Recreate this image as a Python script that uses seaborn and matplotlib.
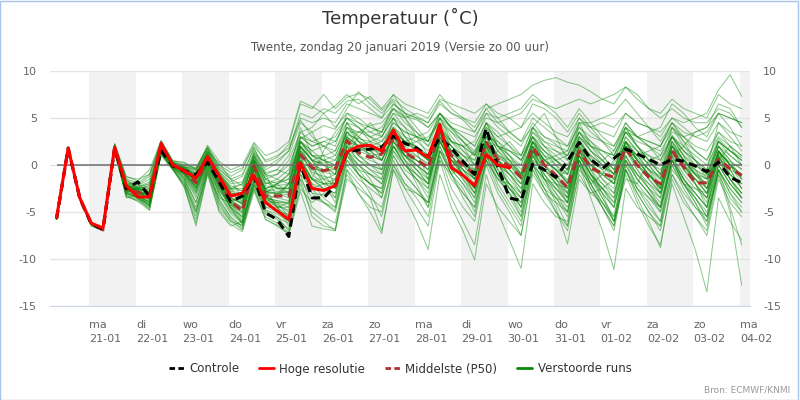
import numpy as np
import pandas as pd
import matplotlib.pyplot as plt
import seaborn as sns
from matplotlib.lines import Line2D
from matplotlib.patches import Rectangle

## Tijdas: 6-uurlijkse stappen (lokale tijd), run van zo 20-01 00 UTC
tijden = pd.date_range('2019-01-20 07:00', periods=60, freq='6h')

dagen = ['ma', 'di', 'wo', 'do', 'vr', 'za', 'zo', 'ma', 'di', 'wo', 'do', 'vr', 'za', 'zo', 'ma']
datums = ['21-01', '22-01', '23-01', '24-01', '25-01', '26-01', '27-01', '28-01',
          '29-01', '30-01', '31-01', '01-02', '02-02', '03-02', '04-02']
tick_dagen = pd.date_range('2019-01-21', periods=15, freq='D')

## Hoge resolutie loopt tot 30-01 (240 uur)
hoge_resolutie = [-5.6, 1.8, -3.5, -6.2, -6.7,
                  1.9, -2.2, -3.4, -3.4, 2.3, 0.0, -0.6, -1.4, 0.9, -1.2, -3.3, -3.0,
                  -1.1, -4.0, -4.9, -5.8, 0.2, -2.5, -2.7, -2.2, 1.4, 2.0, 2.1, 1.5,
                  3.7, 1.5, 1.6, 0.8, 4.3, -0.3, -1.1, -2.2, 1.1, 0.0, -0.3]

controle = [-5.7, 1.8, -3.5, -6.3, -6.8,
            1.8, -2.5, -1.8, -3.3, 1.5, -0.1, -0.6, -1.0, 0.3, -1.8, -3.9, -3.3,
            -1.2, -5.1, -5.8, -7.6, 0.1, -3.5, -3.5, -2.2, 1.4, 1.6, 1.7, 1.9,
            3.1, 2.3, 1.8, 0.9, 2.9, 1.8, 0.4, -1.0, 3.9, -0.2, -3.5, -3.8,
            0.1, -0.5, -1.3, 0.4, 2.4, 0.6, -0.4, 0.7, 1.7, 1.2, 0.6, 0.0,
            0.6, 0.4, -0.1, -0.7, 0.3, -1.3, -1.9]

middelste = [-5.7, 1.7, -3.6, -6.3, -6.9,
             1.8, -2.6, -2.9, -3.2, 2.0, 0.0, -0.7, -1.9, 0.6, -1.8, -3.9, -4.9,
             -0.1, -3.3, -3.3, -3.3, 1.1, -0.3, -0.6, -0.4, 2.6, 1.3, 0.8, 1.2,
             2.8, 1.3, 0.6, -0.3, 3.6, 1.0, 0.0, -1.0, 2.4, 0.6, -0.1, -1.3,
             1.9, 0.0, -1.1, -2.4, 1.5, -0.3, -0.9, -1.3, 1.8, 0.0, -1.3, -2.0,
             1.5, -0.2, -1.9, -1.9, 0.6, -0.4, -1.1]

verstoorde_runs = [
    [-5.7, 1.8, -3.5, -6.3, -6.8,
     1.9, -2.4, -2.8, -3.0, 2.1, 0.1, -0.5, -1.5, 0.8, -1.5, -3.5, -4.2, 0.3, -2.8, -3.0, -3.5,
     1.5, -0.2, -0.8, -1.0, 2.8, 1.8, 1.2, 1.0, 3.1, 1.6, 0.9, 0.2, 3.8, 1.5, 0.4, -0.6,
     2.9, 1.1, 0.2, -0.8, 2.4, 0.6, -0.5, -1.6, 2.0, 0.4, -0.3, -0.9, 2.3, 0.7, -0.5, -1.2,
     2.2, 0.5, -0.8, -1.5, 1.2, 0.3, -0.4],
    [-5.6, 1.9, -3.6, -6.4, -6.9,
     1.5, -3.2, -3.9, -4.8, 1.2, -0.4, -2.2, -5.8, -0.6, -4.5, -6.0, -6.9, -2.5, -5.5, -6.2, -7.2,
     -2.5, -4.0, -3.0, -1.5, 2.0, 3.5, 4.2, 4.5, 6.0, 5.2, 4.8, 4.0, 5.5, 3.8, 2.5, 1.2,
     4.5, 2.0, 0.5, -1.5, 3.0, 0.2, -2.0, -4.0, 1.5, -1.0, -3.5, -5.5, 0.5, -2.5, -4.5, -6.0,
     0.8, -1.5, -3.0, -4.5, 1.2, -0.5, -2.5],
    [-5.7, 1.7, -3.4, -6.2, -6.7,
     2.3, -1.2, -1.7, -0.5, 2.6, 0.4, 0.3, -0.5, 2.0, -0.2, -1.2, -0.5, 2.3, 0.3, 0.8, 2.2,
     6.5, 6.0, 7.5, 6.0, 7.2, 7.6, 7.0, 5.8, 7.0, 6.0, 5.2, 4.5, 6.8, 5.5, 4.8, 3.5,
     5.5, 4.0, 3.0, 2.0, 4.5, 3.0, 2.2, 1.0, 4.0, 2.5, 1.5, 0.5, 3.5, 2.0, 1.0, 0.0,
     3.2, 1.5, 0.5, -0.5, 2.8, 1.5, 0.8],
    [-5.8, 1.8, -3.7, -6.5, -7.0,
     1.6, -3.0, -3.5, -4.2, 1.5, -0.2, -1.5, -4.5, -0.2, -3.8, -5.5, -6.5, -2.0, -5.0, -5.8, -6.8,
     -1.5, -5.5, -6.5, -6.8, -1.0, -3.0, -4.5, -5.0, 0.5, -2.0, -3.5, -5.5, 1.0, -2.5, -4.5, -6.0,
     0.0, -3.0, -5.0, -7.5, -0.5, -3.0, -5.0, -6.5, 0.5, -2.0, -4.5, -7.0, -0.5, -3.0, -5.0, -6.5,
     0.0, -2.5, -4.5, -6.0, -0.5, -3.0, -5.0],
    [-5.7, 1.8, -3.5, -6.3, -6.8,
     1.8, -2.0, -2.0, -3.0, 1.7, -0.1, -0.8, -1.2, 0.5, -2.0, -3.8, -3.5, -1.0, -4.8, -5.5, -7.0,
     0.3, -3.0, -3.2, -2.0, 1.8, 1.5, 1.8, 2.0, 3.5, 2.5, 2.0, 1.0, 3.2, 2.0, 0.5, -1.5,
     3.5, 0.5, -2.5, -3.5, 0.5, -0.5, -1.5, -0.5, 2.8, 0.8, -0.5, 0.2, 2.0, 1.0, 0.2, -0.5,
     1.0, 0.2, -0.5, -1.2, 0.8, -1.0, -2.0],
    [-5.6, 1.8, -3.5, -6.3, -6.8,
     2.0, -1.8, -2.2, -1.5, 2.4, 0.3, -0.2, -0.8, 1.5, -0.8, -2.0, -1.8, 1.5, -1.0, -0.5, 1.0,
     4.5, 3.5, 4.2, 3.8, 6.0, 7.8, 6.5, 5.5, 6.8, 5.0, 3.5, 2.0, 5.0, 3.0, 1.5, 0.0,
     3.5, 1.5, 0.5, -1.0, 2.5, 1.0, 0.5, -0.5, 3.5, 2.0, 1.0, -0.5, 3.0, 1.5, 0.0, -1.5,
     2.5, 0.5, -1.0, -2.5, 1.5, 0.0, -1.5],
    [-5.7, 1.9, -3.5, -6.3, -6.8,
     1.7, -2.8, -3.0, -3.5, 1.9, 0.0, -0.9, -2.5, 0.4, -2.2, -4.2, -5.5, -0.8, -3.8, -4.0, -4.5,
     1.5, -1.0, -2.0, -2.5, 2.0, 0.5, -0.5, -1.5, 2.5, 0.5, -1.0, -2.5, 2.8, 0.0, -1.5, -3.0,
     1.5, -1.0, -2.5, -4.0, 1.0, -1.5, -3.0, -4.5, 0.5, -2.5, -4.5, -6.5, -1.0, -4.0, -6.5, -8.5,
     -2.0, -5.5, -9.0, -13.5, -3.5, -6.0, -8.0],
    [-5.8, 1.7, -3.6, -6.4, -6.9,
     1.4, -3.4, -3.8, -4.6, 1.1, -0.5, -2.4, -6.2, -0.9, -4.8, -6.3, -7.1, -2.8, -5.8, -6.4, -7.4,
     -2.8, -6.5, -6.8, -7.0, -1.5, -2.5, -3.5, -4.5, 0.0, -2.5, -4.5, -6.5, 0.5, -3.5, -6.0, -8.5,
     -1.0, -5.0, -8.0, -11.0, -2.0, -4.0, -5.5, -6.0, 0.0, -1.5, -2.5, -3.5, 1.5, 0.0, -1.0, -2.5,
     1.5, 0.0, -1.5, -3.0, 0.5, -1.5, -3.0],
    [-5.7, 1.8, -3.5, -6.3, -6.8,
     2.1, -2.2, -2.5, -2.2, 2.2, 0.2, -0.4, -1.0, 1.2, -1.2, -2.8, -3.0, 0.5, -2.0, -1.8, -1.5,
     2.5, 1.0, 0.5, 0.0, 3.5, 2.5, 2.0, 1.5, 4.0, 2.5, 1.5, 0.5, 4.5, 2.5, 1.5, 0.5,
     3.8, 2.0, 1.0, 0.0, 3.5, 2.5, 2.0, 1.5, 4.5, 4.0, 4.5, 4.0, 5.5, 4.5, 4.0, 3.5,
     5.0, 4.5, 5.0, 5.5, 8.0, 9.6, 7.3],
    [-5.6, 1.7, -3.4, -6.2, -6.7,
     1.9, -2.5, -2.6, -2.8, 2.0, 0.1, -0.6, -1.6, 0.9, -1.6, -3.2, -3.8, 0.0, -2.5, -2.2, -2.0,
     2.0, 0.5, 0.0, -0.5, 3.0, 2.0, 1.5, 1.8, 4.5, 3.5, 3.0, 2.5, 5.5, 4.5, 4.0, 3.5,
     6.0, 6.5, 7.0, 7.5, 8.5, 9.0, 9.3, 8.8, 8.5, 7.8, 7.0, 6.5, 8.3, 7.5, 6.0, 5.5,
     7.0, 6.0, 5.5, 5.0, 7.5, 6.5, 6.0],
    [-5.7, 1.8, -3.6, -6.3, -6.9,
     1.6, -2.9, -3.3, -3.9, 1.6, -0.1, -1.2, -3.5, 0.1, -3.0, -5.0, -6.0, -1.5, -4.2, -4.8, -5.5,
     0.0, -2.0, -3.5, -4.5, 0.5, -1.0, -2.0, -3.0, 1.5, -0.5, -1.5, -3.0, 2.0, -0.5, -2.0, -4.0,
     1.0, -1.5, -3.0, -5.0, 0.5, -2.0, -3.5, -5.0, 0.0, -2.5, -4.5, -6.5, -0.5, -3.0, -5.0, -7.0,
     -1.0, -3.5, -5.5, -7.5, -1.5, -4.0, -5.5],
    [-5.7, 1.8, -3.5, -6.3, -6.8,
     1.8, -2.6, -2.9, -3.4, 1.9, 0.0, -0.7, -2.0, 0.6, -1.9, -4.0, -5.0, 0.2, -3.0, -3.0, -2.8,
     1.8, 0.5, 0.2, 0.5, 3.2, 2.8, 2.5, 2.0, 3.0, 1.5, 0.5, -0.5, 3.3, 1.2, 0.2, -0.8,
     2.5, 0.8, 0.0, -1.0, 2.0, 0.5, -0.5, -1.8, 1.8, 0.0, -0.8, -1.5, 1.6, 0.0, -1.2, -2.2,
     1.4, -0.3, -1.5, -2.5, 0.8, -0.5, -1.2],
    [-5.7, 1.8, -3.5, -6.3, -6.8,
     1.7, -2.7, -3.1, -3.6, 1.8, 0.0, -1.0, -2.8, 0.3, -2.5, -4.5, -5.8, -1.2, -4.5, -5.0, -5.2,
     0.8, -1.5, -2.5, -3.0, 1.5, 0.0, -1.0, -2.0, 2.0, 0.0, -1.0, -2.0, 3.0, 0.5, -1.0, -2.5,
     1.8, -0.5, -2.0, -3.5, 1.2, -1.5, -3.5, -5.5, 0.0, -3.5, -7.0, -11.1, -2.5, -4.5, -5.5, -6.5,
     -1.0, -3.0, -4.5, -5.5, -0.5, -3.0, -4.5],
    [-5.8, 1.8, -3.6, -6.4, -6.9,
     1.5, -3.1, -3.6, -4.3, 1.4, -0.3, -1.8, -5.0, -0.4, -4.0, -5.8, -6.8, -2.2, -5.2, -5.6, -6.2,
     -1.0, -4.5, -5.5, -6.2, -0.5, -2.0, -3.5, -7.0, -0.5, -3.5, -6.0, -9.0, -1.0, -4.5, -7.0, -10.1,
     -2.0, -4.5, -6.0, -7.5, -1.0, -3.0, -4.0, -5.0, 0.5, -1.5, -3.0, -4.5, 0.5, -1.5, -3.0, -4.5,
     0.0, -2.0, -3.5, -5.0, -0.5, -2.5, -4.0],
    [-5.6, 1.8, -3.5, -6.3, -6.8,
     2.2, -1.5, -1.9, -1.0, 2.5, 0.4, 0.0, -0.3, 1.8, 0.0, -0.8, -0.3, 2.0, 0.5, 1.0, 1.8,
     5.0, 4.5, 5.0, 4.5, 6.5, 6.0, 5.5, 5.0, 6.5, 5.5, 5.0, 4.5, 6.5, 5.5, 5.0, 4.5,
     6.5, 5.5, 5.0, 4.0, 5.5, 4.5, 3.5, 3.0, 5.0, 4.0, 3.5, 3.0, 5.5, 4.5, 4.0, 3.0,
     5.0, 4.0, 3.0, 2.5, 4.5, 3.5, 3.0],
    [-5.7, 1.8, -3.5, -6.3, -6.8,
     2.0, -2.3, -2.7, -3.8, 2.2, 0.1, -0.6, -2.5, 1.0, -2.2, -4.5, -5.5, 0.5, -3.5, -3.8, -4.0,
     2.0, -0.5, -1.5, -2.0, 3.0, 1.0, 0.0, -0.5, 3.5, 1.0, -0.5, -2.0, 4.0, 1.0, -0.5, -2.5,
     3.0, 0.5, -1.0, -3.0, 2.5, 0.0, -1.5, -3.5, 2.0, -0.5, -2.0, -3.5, 2.0, -0.5, -2.0, -3.5,
     2.0, -0.5, -2.0, -3.5, 1.5, -1.0, -2.5],
    [-5.7, 1.8, -3.5, -6.3, -6.8,
     2.1, -2.0, -2.4, -2.0, 2.3, 0.2, -0.3, -1.2, 1.4, -1.0, -2.5, -2.5, 1.0, -1.5, -1.0, 0.5,
     3.5, 4.0, 5.5, 6.3, 7.5, 6.5, 7.3, 6.0, 7.5, 5.5, 4.0, 2.5, 5.0, 3.5, 2.5, 1.5,
     4.0, 2.5, 1.5, 0.5, 3.5, 2.0, 1.0, 0.0, 3.0, 1.5, 0.5, -1.0, 2.5, 1.0, -0.5, -2.0,
     2.0, 0.5, -0.5, -1.5, 2.5, 1.5, 0.5],
    [-5.7, 1.8, -3.5, -6.3, -6.8,
     1.5, -3.3, -3.7, -4.5, 1.3, -0.4, -2.3, -6.5, -1.0, -5.0, -6.5, -6.0, -2.2, -4.5, -4.5, -4.0,
     1.0, -2.5, -4.0, -5.0, 0.0, -1.5, -2.5, -3.5, 1.0, -1.0, -2.5, -4.5, 1.5, -1.0, -2.5, -5.0,
     0.5, -2.5, -4.5, -6.5, 0.0, -2.5, -4.5, -8.4, -1.5, -3.0, -4.0, -5.5, 0.0, -2.0, -3.5, -5.0,
     0.5, -1.5, -3.0, -4.5, 0.0, -2.0, -3.5],
    [-5.7, 1.8, -3.5, -6.3, -6.8,
     1.9, -2.4, -2.8, -3.2, 2.0, 0.1, -0.5, -1.8, 0.8, -1.8, -3.5, -4.0, 0.0, -2.5, -2.0, -1.0,
     3.0, 2.0, 2.5, 3.0, 5.0, 4.5, 4.0, 3.5, 5.5, 5.0, 5.5, 5.0, 7.0, 6.5, 6.0, 5.5,
     6.5, 5.0, 3.5, 2.5, 4.0, 2.5, 1.5, 0.5, 3.5, 1.5, 0.0, -1.5, 2.5, 0.5, -1.0, -2.5,
     2.0, 0.0, -1.5, -3.0, 1.5, 0.0, -1.0],
    [-5.7, 1.8, -3.5, -6.3, -6.8,
     1.8, -2.5, -2.9, -3.1, 1.9, 0.0, -0.7, -1.7, 0.7, -1.7, -3.7, -4.5, -0.3, -3.2, -3.5, -3.8,
     1.2, -0.8, -1.2, -1.5, 2.3, 1.0, 0.5, 0.0, 2.5, 1.0, 0.0, -1.0, 3.0, 0.5, -0.5, -1.5,
     2.0, 0.0, -1.0, -2.0, 1.5, -0.5, -1.5, -2.5, 1.0, -1.0, -2.0, -3.0, 1.0, -1.0, -2.5, -4.0,
     0.5, -2.0, -3.5, -5.5, -1.0, -5.0, -12.8],
    [-5.7, 1.8, -3.5, -6.3, -6.8,
     2.0, -2.1, -2.5, -2.5, 2.1, 0.2, -0.4, -1.3, 1.1, -1.3, -3.0, -3.2, 0.8, -2.0, -1.5, -0.5,
     3.5, 2.5, 3.0, 2.5, 4.5, 4.0, 3.0, 2.5, 4.5, 3.5, 3.0, 2.5, 5.0, 4.0, 3.5, 3.0,
     5.0, 4.5, 5.0, 5.5, 7.0, 6.5, 6.0, 6.5, 7.0, 6.5, 7.0, 7.5, 8.3, 7.0, 6.0, 5.0,
     6.0, 5.0, 4.5, 4.5, 6.0, 5.5, 4.0],
    [-5.8, 1.7, -3.6, -6.4, -6.9,
     1.6, -2.9, -3.3, -4.0, 1.5, -0.2, -1.4, -4.0, -0.1, -3.2, -5.2, -6.2, -1.8, -4.8, -5.2, -6.0,
     -0.5, -3.0, -4.0, -4.8, 0.5, -1.0, -2.0, -2.5, 1.5, 0.0, -1.0, -2.0, 2.5, 0.0, -1.5, -3.5,
     1.5, -1.0, -2.5, -4.5, 1.0, -1.0, -2.5, -4.0, 0.5, -2.0, -4.0, -6.0, -0.5, -3.5, -6.0, -8.8,
     -1.5, -4.0, -5.5, -7.0, -1.0, -3.5, -5.0],
    [-5.7, 1.8, -3.5, -6.3, -6.8,
     2.2, -1.9, -2.3, -1.8, 2.4, 0.3, -0.2, -0.9, 1.7, -0.7, -1.8, -1.2, 1.8, -0.8, -0.5, -1.0,
     4.0, 1.0, 0.0, -1.0, 4.5, 3.0, 2.0, 1.0, 5.0, 3.0, 1.5, 0.5, 5.0, 2.5, 1.0, -0.5,
     4.5, 2.0, 0.5, -1.0, 4.0, 2.0, 0.5, -1.0, 4.5, 2.0, 0.5, -1.0, 4.0, 2.0, 0.5, -1.0,
     4.0, 2.0, 0.5, -0.5, 4.5, 3.0, 1.5],
    [-5.7, 1.8, -3.5, -6.3, -6.8,
     1.7, -2.7, -3.0, -3.7, 1.7, -0.1, -0.9, -2.2, 0.4, -2.0, -4.1, -5.2, -0.5, -3.5, -3.8, -4.2,
     0.5, -1.5, -2.0, -2.0, 2.0, 0.5, 0.0, -0.5, 2.0, 0.5, -0.5, -1.5, 2.5, 0.0, -1.0, -2.0,
     2.0, 0.0, -1.0, -2.5, 1.5, -0.5, -2.0, -3.0, 1.0, -1.0, -2.5, -4.0, 1.0, -1.0, -2.5, -3.5,
     1.0, -1.0, -2.5, -3.5, 0.5, -1.5, -3.0],
    [-5.6, 1.9, -3.4, -6.2, -6.7,
     2.0, -2.0, -2.4, -2.4, 2.2, 0.2, -0.3, -1.0, 1.3, -0.9, -2.4, -2.0, 1.2, -1.2, -1.0, 0.0,
     3.0, 2.0, 2.5, 2.0, 5.5, 5.0, 4.0, 3.5, 6.0, 4.5, 3.5, 2.5, 5.5, 4.0, 3.0, 2.0,
     4.5, 3.0, 2.0, 1.0, 4.0, 3.0, 2.5, 2.0, 4.0, 3.0, 2.5, 2.0, 4.0, 3.0, 2.5, 2.0,
     4.0, 3.0, 2.0, 1.5, 3.5, 2.5, 2.0],
    [-5.7, 1.8, -3.5, -6.3, -6.8,
     1.6, -3.0, -3.4, -4.0, 1.4, -0.3, -1.7, -4.8, -0.3, -3.6, -5.6, -6.6, -2.5, -5.8, -6.5, -7.3,
     -2.0, -5.0, -6.0, -7.0, -0.5, -3.0, -5.0, -7.3, -0.5, -2.5, -3.0, -4.0, 1.0, -1.5, -3.0, -4.5,
     0.5, -1.5, -3.0, -4.5, 1.0, -1.0, -2.5, -4.0, 1.0, -1.0, -2.5, -4.5, 0.5, -1.5, -3.0, -4.5,
     0.5, -1.5, -3.0, -4.5, 0.0, -2.0, -3.5],
    [-5.7, 1.8, -3.5, -6.3, -6.8,
     2.1, -1.7, -2.1, -1.2, 2.4, 0.3, 0.0, -0.6, 1.8, -0.5, -1.5, -1.0, 1.8, -0.5, 0.2, 1.5,
     5.5, 5.0, 6.0, 5.5, 6.8, 7.0, 6.0, 5.0, 7.5, 6.5, 6.0, 5.5, 7.5, 6.0, 5.0, 4.0,
     6.0, 4.5, 3.5, 2.5, 5.0, 4.0, 3.0, 2.0, 5.0, 3.5, 2.5, 1.5, 4.5, 3.0, 2.0, 1.0,
     4.0, 2.5, 1.5, 0.5, 3.5, 2.0, 1.0],
    [-5.7, 1.8, -3.5, -6.3, -6.8,
     1.9, -2.3, -2.6, -2.9, 2.0, 0.1, -0.6, -1.4, 0.9, -1.4, -3.2, -3.0, 0.4, -2.6, -2.8, -3.0,
     2.0, 0.5, 1.0, 1.5, 4.0, 3.0, 2.0, 1.5, 3.5, 2.0, 1.0, 0.0, 4.0, 2.0, 1.0, 0.0,
     3.0, 1.0, 0.0, -1.5, 2.5, 0.5, -0.5, -2.0, 2.5, 0.5, -0.5, -2.0, 2.5, 0.5, -1.0, -2.5,
     2.5, 0.5, -1.0, -2.0, 2.0, 0.5, -0.5],
    [-5.7, 1.8, -3.5, -6.3, -6.8,
     1.8, -2.6, -3.0, -3.3, 1.8, 0.0, -0.8, -2.3, 0.5, -2.1, -4.0, -4.8, -0.6, -3.6, -4.2, -5.0,
     0.5, -2.0, -2.5, -3.0, 1.5, 0.5, -0.5, -1.0, 2.5, 1.0, 0.0, -1.0, 3.0, 1.0, -0.5, -2.0,
     2.5, 0.0, -1.5, -3.0, 1.5, -0.5, -2.0, -3.5, 1.5, -1.0, -2.5, -4.0, 1.0, -1.5, -3.0, -5.0,
     0.5, -2.0, -4.0, -6.5, -0.5, -4.5, -8.5],
    [-5.7, 1.8, -3.5, -6.3, -6.8,
     2.0, -2.2, -2.6, -2.6, 2.1, 0.1, -0.5, -1.2, 1.0, -1.3, -3.0, -3.4, 0.6, -2.2, -2.4, -2.5,
     2.5, 1.0, 1.0, 0.5, 3.5, 2.5, 2.0, 2.5, 4.0, 3.0, 2.5, 1.5, 4.0, 2.5, 2.0, 1.0,
     3.5, 2.0, 1.5, 0.5, 3.0, 2.0, 1.5, 1.0, 3.5, 2.0, 1.5, 1.0, 3.5, 2.5, 2.0, 1.5,
     3.5, 3.0, 3.5, 4.0, 6.5, 6.0, 4.0],
    [-5.7, 1.8, -3.5, -6.3, -6.8,
     1.9, -1.5, -2.6, -3.6, 1.8, 0.3, -1.1, -3.0, 0.2, -0.8, -2.5, -3.9, 1.2, -1.0, -3.5, -2.0,
     2.8, 3.5, 1.0, -2.5, 1.0, 3.0, 4.5, 3.0, 5.5, 4.0, 1.5, -1.5, 2.0, -1.0, -3.5, -5.5,
     0.5, 1.5, 2.5, 1.0, 4.0, 5.5, 3.0, 0.5, 2.5, -0.5, -3.0, -6.0, -1.5, -2.0, 0.5, 1.0,
     3.0, 1.0, -2.0, -4.5, 0.5, 2.0, 1.0],
    [-5.6, 1.7, -3.5, -6.3, -6.8,
     1.7, -2.8, -2.5, -2.2, 1.6, -0.3, -0.2, -0.6, 1.4, 0.2, -1.5, -3.6, -0.5, -2.5, -4.5, -6.0,
     -0.5, -1.5, 1.5, 3.5, 5.0, 4.0, 2.5, 0.5, 3.0, 0.5, -2.0, -4.5, 0.5, -1.0, 0.0, 1.5,
     3.0, 2.5, 1.0, -1.0, 1.5, -1.5, -4.0, -6.5, -1.0, -3.0, -2.5, -1.5, 2.5, 1.0, -0.5, -3.0,
     1.0, 2.0, 3.5, 4.0, 5.5, 4.0, 2.0],
    [-5.7, 1.8, -3.4, -6.2, -6.8,
     2.0, -2.5, -3.4, -4.4, 1.3, 0.0, -1.5, -4.0, 0.0, -2.8, -4.0, -4.5, 0.5, -1.5, -2.5, -3.0,
     1.5, 0.0, -2.0, -4.0, 1.0, -0.5, -1.0, -1.5, 3.0, 2.0, 2.5, 3.0, 4.5, 3.5, 2.0, 0.0,
     2.0, -1.0, -3.5, -5.5, 0.0, -1.5, -2.0, -2.5, 1.5, -0.5, -1.0, -2.0, 2.0, 0.0, -1.5, -3.0,
     1.5, 0.0, -1.0, -1.5, 2.0, 0.5, -1.5],
    [-5.7, 1.8, -3.5, -6.4, -6.9,
     1.6, -3.5, -3.2, -2.8, 1.5, -0.4, -1.0, -1.5, 0.0, -3.0, -4.8, -6.2, -2.0, -4.0, -3.0, -2.0,
     2.5, 1.5, 0.5, -0.5, 4.0, 3.5, 3.5, 4.0, 6.0, 5.0, 3.0, 1.0, 3.0, 1.5, 0.5, -1.0,
     2.5, 0.0, -2.0, -4.5, 0.0, -2.5, -5.0, -7.0, -0.5, -2.0, -1.0, 0.5, 3.5, 3.0, 3.5, 4.0,
     6.5, 5.5, 4.0, 3.0, 5.5, 5.0, 4.5],
    [-5.7, 1.8, -3.5, -6.3, -6.8,
     1.8, -2.2, -3.6, -4.2, 1.7, 0.2, -0.2, -0.4, 1.8, -0.4, -1.5, -2.2, 0.8, -2.8, -4.5, -5.5,
     -1.0, -2.5, -2.0, -1.5, 1.5, 0.0, -1.5, -3.5, 1.0, -1.0, -2.5, -4.0, 1.5, 0.5, 0.0, -0.5,
     2.5, 2.0, 1.5, 1.0, 3.0, 1.5, 0.0, -2.0, 1.5, 0.0, -1.0, -2.0, 2.0, 1.0, 1.5, 2.0,
     4.5, 3.0, 1.5, 0.5, 3.0, 2.0, 0.0],
    [-5.7, 1.8, -3.6, -6.3, -6.8,
     1.9, -2.9, -2.4, -3.0, 2.2, 0.0, -0.8, -2.2, 0.9, -1.2, -2.2, -2.8, 1.4, -0.2, 0.5, 1.5,
     4.8, 3.0, 2.0, 1.5, 4.5, 2.5, 1.0, -0.5, 3.5, 1.5, 0.0, -1.5, 3.5, 1.0, -1.0, -2.5,
     2.0, -0.5, -2.0, -3.5, 1.5, 0.5, 1.0, 1.5, 4.5, 4.5, 5.0, 5.5, 7.0, 5.5, 4.0, 2.5,
     4.5, 2.5, 0.5, -1.5, 2.0, 0.0, -2.0],
    [-5.8, 1.8, -3.5, -6.3, -6.9,
     1.5, -2.6, -3.2, -4.0, 1.6, -0.2, -1.3, -3.2, 0.2, -2.6, -4.6, -6.0, -1.8, -4.0, -4.0, -4.0,
     0.0, -1.5, -1.5, -1.0, 2.5, 2.0, 2.5, 3.0, 5.0, 4.0, 3.0, 2.0, 4.0, 2.0, 0.5, -1.0,
     2.5, 0.5, -1.0, -2.5, 1.5, -1.0, -3.0, -5.0, 0.5, -2.0, -4.0, -6.0, 0.0, -2.5, -4.0, -6.0,
     -0.5, -2.0, -2.5, -3.0, 1.5, 0.0, -1.0],
    [-5.7, 1.9, -3.5, -6.3, -6.8,
     2.0, -2.0, -2.9, -3.5, 1.9, 0.2, -0.5, -1.0, 1.5, -1.0, -2.8, -4.2, 0.2, -3.2, -4.5, -4.5,
     2.5, 1.0, 0.5, 0.0, 1.5, -0.5, -2.0, -3.0, 2.0, 0.0, -1.5, -3.5, 1.5, -1.0, -3.0, -4.5,
     0.5, -1.5, -2.0, -3.0, 2.0, 0.5, -0.5, -1.0, 3.0, 2.0, 1.5, 1.0, 3.5, 2.0, 0.5, -1.0,
     3.0, 1.0, -0.5, -2.5, 1.5, -0.5, -2.5],
    [-5.7, 1.8, -3.5, -6.3, -6.8,
     2.2, -1.3, -1.5, -1.0, 2.6, 0.5, 0.2, -0.4, 2.1, 0.4, -0.5, 0.0, 2.4, 1.0, 1.5, 2.5,
     6.8, 6.2, 5.5, 4.0, 5.5, 4.5, 3.5, 3.0, 5.0, 3.0, 1.5, 0.5, 4.0, 2.5, 2.0, 2.5,
     5.5, 5.0, 5.5, 6.0, 7.5, 6.5, 5.5, 4.0, 6.0, 4.5, 3.0, 2.0, 4.5, 3.0, 2.5, 2.0,
     4.5, 3.5, 3.0, 3.5, 5.5, 5.0, 4.5],
    [-5.7, 1.8, -3.5, -6.3, -6.8,
     1.7, -2.4, -3.1, -4.4, 1.6, -0.1, -1.0, -2.9, 0.5, -2.4, -4.6, -6.3, -1.0, -3.0, -2.0, -1.0,
     2.5, 0.5, -1.5, -3.5, 1.0, -1.0, -2.0, -2.5, 2.5, 1.0, 0.5, 0.0, 3.0, 1.0, -1.0, -3.0,
     1.0, -2.0, -4.0, -6.0, -0.5, -2.5, -3.5, -4.0, 1.0, 0.0, 0.5, 1.5, 4.0, 3.0, 2.0, 0.5,
     3.0, 1.5, 0.5, -1.0, 2.5, 1.0, 0.0],
    [-5.6, 1.8, -3.5, -6.3, -6.8,
     1.8, -2.7, -2.7, -3.1, 2.1, 0.1, -0.3, -1.1, 1.0, -2.0, -3.6, -4.0, -0.5, -2.8, -2.5, -2.5,
     1.0, -0.5, -0.5, 0.0, 3.5, 3.5, 3.0, 3.5, 6.5, 5.5, 5.0, 4.0, 5.5, 4.0, 3.0, 2.0,
     4.5, 3.5, 2.0, 0.5, 3.0, 1.0, -1.0, -3.0, 1.0, -1.0, -3.0, -4.5, 0.5, -1.0, -2.0, -3.0,
     1.5, 0.0, -1.5, -3.0, 1.0, -1.5, -3.5],
    [-5.7, 1.8, -3.5, -6.3, -6.8,
     1.9, -2.3, -2.3, -2.0, 2.1, 0.0, -0.4, -1.2, 1.1, -1.5, -2.6, -2.0, 1.0, -1.5, -2.0, -3.0,
     1.0, 0.0, 0.5, 1.0, 4.0, 2.5, 1.5, 0.5, 3.0, 1.5, 0.5, -0.5, 3.5, 2.5, 2.0, 1.0,
     4.0, 3.0, 3.5, 4.0, 6.5, 6.0, 5.0, 3.5, 5.5, 4.0, 2.5, 1.0, 4.0, 2.0, 0.5, -1.0,
     3.0, 1.5, 0.0, -1.0, 2.5, 1.5, 0.5],
    [-5.8, 1.7, -3.6, -6.4, -7.0,
     1.4, -3.1, -3.4, -4.2, 1.2, -0.4, -2.0, -5.4, -0.6, -4.2, -6.0, -6.4, -1.5, -3.5, -4.5, -6.5,
     -1.5, -3.5, -4.0, -4.5, 1.0, 0.0, -1.0, -2.0, 2.0, 1.0, 0.0, -1.0, 2.5, 0.5, -1.0, -3.0,
     1.5, -1.0, -3.0, -5.5, 0.0, -1.5, -2.5, -3.5, 1.0, -1.5, -3.5, -6.0, -0.5, -2.5, -3.5, -4.5,
     0.5, -2.0, -4.0, -6.0, -0.5, -2.5, -4.0],
    [-5.7, 1.8, -3.5, -6.3, -6.8,
     2.1, -2.1, -2.8, -3.3, 2.0, 0.0, -0.6, -1.6, 0.7, -1.9, -3.8, -4.6, 0.0, -2.8, -3.2, -2.0,
     3.0, 2.5, 2.0, 1.0, 3.5, 2.0, 1.5, 0.5, 3.5, 2.5, 3.0, 3.5, 5.5, 4.0, 2.5, 1.0,
     3.5, 1.5, 0.0, -1.5, 2.0, 0.0, -1.5, -3.0, 1.5, 0.0, -1.0, -2.0, 2.0, 0.5, -0.5, -1.5,
     2.0, 0.5, -1.0, -2.0, 1.5, 0.0, -1.5],
    [-5.7, 1.8, -3.5, -6.3, -6.8,
     1.6, -2.8, -3.5, -4.8, 1.0, -0.5, -2.0, -5.0, -0.8, -3.5, -4.0, -3.0, 0.5, -1.0, -1.5, -2.0,
     2.0, 0.5, -1.0, -2.5, 1.5, -1.0, -3.0, -5.5, 0.0, -2.0, -3.0, -4.0, 1.5, -0.5, -2.0, -3.5,
     1.0, -1.0, -2.5, -4.0, 1.5, 0.0, 0.5, 1.0, 3.5, 2.5, 1.0, -0.5, 2.5, 0.5, -1.0, -2.5,
     2.0, 0.0, -2.0, -4.0, 1.0, -1.5, -3.0],
    [-5.7, 1.8, -3.5, -6.3, -6.8,
     1.8, -2.5, -3.2, -3.9, 1.8, 0.1, -0.9, -2.6, 0.5, -2.3, -4.4, -5.6, -0.4, -3.4, -4.0, -5.5,
     0.5, -1.5, -2.5, -3.5, 2.0, 1.5, 1.0, 0.5, 3.0, 1.0, -0.5, -2.0, 2.5, 0.5, -1.0, -2.5,
     2.0, 0.5, -0.5, -1.5, 2.5, 1.5, 0.5, -0.5, 2.5, 1.0, 0.0, -1.0, 2.5, 1.5, 1.0, 0.5,
     3.0, 2.0, 1.0, 0.0, 2.5, 1.5, 0.5],
    [-5.7, 1.8, -3.5, -6.3, -6.8,
     2.0, -2.2, -2.6, -2.7, 2.2, 0.2, -0.4, -1.1, 1.2, -1.1, -2.6, -2.7, 0.9, -1.8, -2.5, -2.5,
     2.0, 0.5, 0.0, -1.0, 3.0, 2.0, 1.5, 1.5, 3.5, 2.5, 2.0, 1.0, 3.5, 2.0, 1.0, 0.5,
     3.5, 2.0, 1.0, -0.5, 2.5, 1.0, 0.0, -1.0, 3.0, 1.5, 0.5, -0.5, 3.0, 1.5, 0.0, -1.5,
     2.5, 1.0, 0.0, -1.0, 2.0, 1.0, 0.0],
    [-5.7, 1.8, -3.5, -6.3, -6.8,
     1.7, -2.6, -2.8, -3.2, 1.9, 0.0, -0.7, -1.8, 0.6, -1.8, -3.8, -4.6, -0.3, -2.5, -2.0, -1.5,
     2.5, 1.5, 2.0, 2.5, 5.0, 4.0, 3.0, 2.0, 4.0, 2.5, 1.5, 0.5, 3.5, 1.5, 0.0, -1.5,
     2.5, 0.5, -0.5, -2.0, 2.0, 0.5, -0.5, -2.0, 2.5, 0.5, -1.5, -3.0, 1.5, -0.5, -2.5, -4.5,
     1.0, -1.5, -3.5, -5.5, 0.0, -2.0, -3.5],
    [-5.7, 1.8, -3.5, -6.3, -6.8,
     1.8, -2.4, -3.0, -3.5, 1.8, 0.0, -0.9, -2.4, 0.4, -2.2, -4.3, -5.0, -0.9, -3.9, -4.4, -4.8,
     0.5, -1.5, -2.0, -2.0, 2.5, 1.0, 0.0, -1.0, 2.0, 0.0, -1.5, -2.5, 2.5, 0.5, -0.5, -1.5,
     2.5, 1.0, 0.5, 0.0, 3.0, 1.5, 0.5, -0.5, 2.5, 1.0, 0.0, -1.0, 2.0, 0.0, -1.5, -3.0,
     1.5, -0.5, -2.0, -3.5, 1.0, -1.0, -2.0],
    [-5.7, 1.8, -3.5, -6.3, -6.8,
     1.9, -2.4, -2.6, -2.9, 2.0, 0.1, -0.5, -1.6, 0.8, -1.6, -3.4, -4.2, 0.1, -2.8, -3.0, -3.2,
     1.5, 0.0, -0.5, -0.5, 3.0, 2.0, 1.0, 0.5, 3.0, 1.5, 0.5, -0.5, 3.5, 1.5, 0.0, -1.5,
     2.5, 0.5, -0.5, -2.0, 2.0, 0.0, -1.0, -2.5, 2.0, 0.0, -1.5, -2.5, 2.0, 0.5, -1.0, -2.0,
     2.0, 0.5, -1.0, -2.5, 1.5, 0.0, -1.0],
]
assert all(len(r) == len(tijden) for r in verstoorde_runs), [len(r) for r in verstoorde_runs]

## Long-form tabel voor seaborn
ens = pd.DataFrame([
    {'tijd': tijden[i], 'temp': v, 'run': r}
    for r, run in enumerate(verstoorde_runs) for i, v in enumerate(run)
])

sns.set_style('white')
plt.rcParams['font.family'] = ['DejaVu Sans']
plt.rcParams['axes.unicode_minus'] = False

fig = plt.figure(figsize=(8, 4), dpi=100)
ax = fig.add_axes([0.0625, 0.235, 0.875, 0.5875])

# grijze banden om de andere dag
for d in tick_dagen[::2]:
    ax.axvspan(d, d + pd.Timedelta(days=1), color='#f2f2f2', lw=0, zorder=0)

sns.lineplot(data=ens, x='tijd', y='temp', units='run', estimator=None,
             color='#0a8a0a', lw=0.75, alpha=0.45, ax=ax, legend=False, zorder=2)
ax.hlines(0, tijden[0], tijden[-1], color='#6e6e6e', lw=1.1, zorder=3)
sns.lineplot(x=tijden, y=middelste, color='#b03030', lw=2.2,
             linestyle=(0, (2.8, 1.8)), ax=ax, zorder=4)
sns.lineplot(x=tijden, y=controle, color='black', lw=2.2,
             linestyle=(0, (2.8, 1.8)), ax=ax, zorder=5)
sns.lineplot(x=tijden[:len(hoge_resolutie)], y=hoge_resolutie, color='#ff0000',
             lw=2.2, ax=ax, zorder=6)

ax.set_xlim(pd.Timestamp('2019-01-20 03:36'), pd.Timestamp('2019-02-04 05:17'))
ax.set_ylim(-15, 10)
ax.set_yticks([-15, -10, -5, 0, 5, 10])
ax.yaxis.grid(True, color='#e3e3e3', lw=1)
ax.set_axisbelow(True)
ax.set_xlabel('')
ax.set_ylabel('')

ax.set_xticks(tick_dagen)
ax.set_xticklabels([f'{d}\n{dt}' for d, dt in zip(dagen, datums)], ha='left')
for lbl in ax.get_xticklabels():
    lbl.set_linespacing(1.5)
ax.tick_params(axis='x', length=7, width=1, color='#ccd6eb', pad=3,
               labelsize=8, labelcolor='#666666')
ax.tick_params(axis='y', left=False, right=False, labelleft=True, labelright=True,
               pad=6, labelsize=8, labelcolor='#666666')

for s in ['top', 'left', 'right']:
    ax.spines[s].set_visible(False)
ax.spines['bottom'].set_color('#ccd6eb')

fig.text(0.5, 1 - 18 / 400, 'Temperatuur (˚C)', ha='center', va='center',
         fontsize=13, color='#333333')
fig.text(0.5, 1 - 47 / 400, 'Twente, zondag 20 januari 2019 (Versie zo 00 uur)',
         ha='center', va='center', fontsize=8.5, color='#555555')
fig.text(0.988, 1 - 390 / 400, 'Bron: ECMWF/KNMI', ha='right', va='center',
         fontsize=6.5, color='#999999')

handles = [Line2D([], [], color='black', lw=2, linestyle=(0, (2, 1.2))),
           Line2D([], [], color='#ff0000', lw=2),
           Line2D([], [], color='#b03030', lw=2, linestyle=(0, (2, 1.2))),
           Line2D([], [], color='#0a8a0a', lw=2)]
labels = ['Controle', 'Hoge resolutie', 'Middelste (P50)', 'Verstoorde runs']
leg = fig.legend(handles, labels, loc='center', bbox_to_anchor=(0.5, 1 - 369 / 400),
                 ncol=4, frameon=False, fontsize=8.5, handlelength=1.3,
                 handletextpad=0.45, columnspacing=1.65)
for t in leg.get_texts():
    t.set_color('#333333')

fig.patches.append(Rectangle((0.0006, 0.0012), 0.9975, 0.9963, transform=fig.transFigure,
                             fill=False, edgecolor='#a9c4ec', lw=1))

fig.savefig('out.png', dpi=100)
